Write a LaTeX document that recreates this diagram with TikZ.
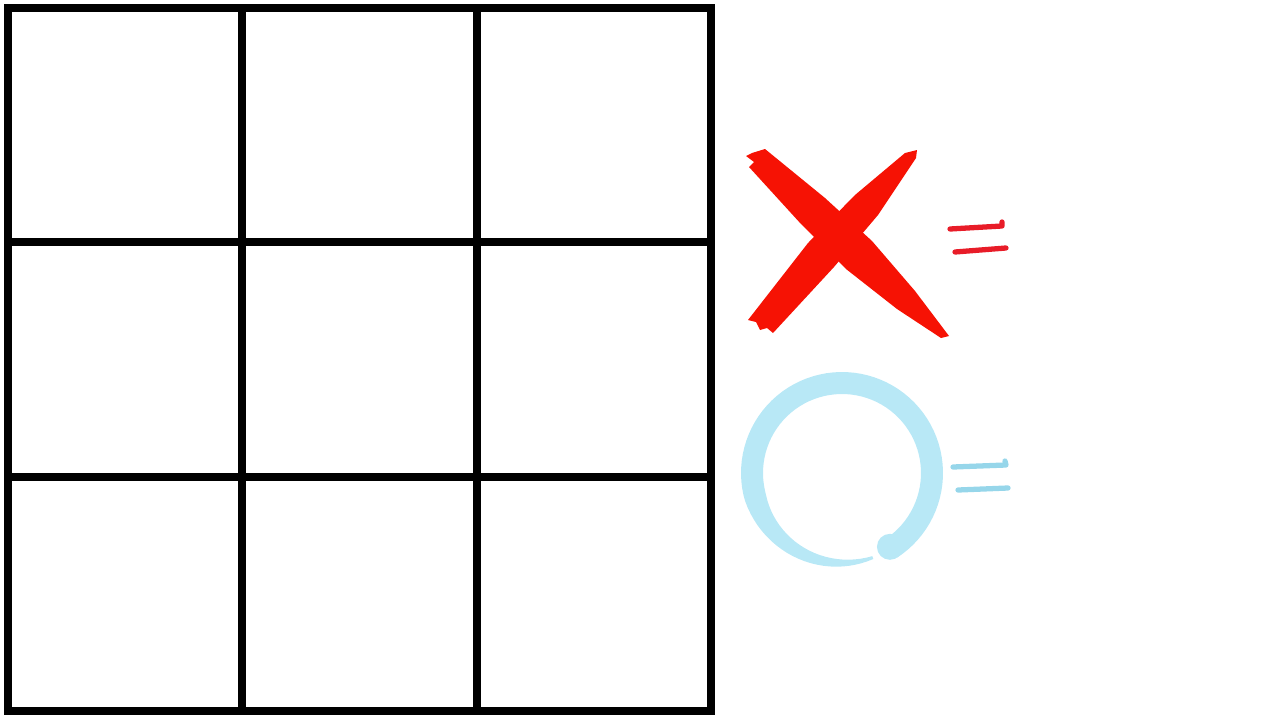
\documentclass[tikz,border=0pt]{standalone}
\usepackage{tikz}
\usetikzlibrary{positioning}
\usepackage{xcolor}
\definecolor{xred}{RGB}{246,18,4}
\definecolor{eqred}{RGB}{232,28,40}
\definecolor{oblue}{RGB}{184,232,246}
\definecolor{eqblue}{RGB}{150,214,234}

\begin{document}
\begin{tikzpicture}[x=0.02cm, y=-0.02cm,
  gridline/.style={line width=4.54pt, line cap=rect},
  eqline/.style={line width=3pt, line cap=round, line join=round},
  declare function={bw(\t)=3+19*min(1,max(0,(\t+290)/95));}]
  \useasboundingbox (0,0) rectangle (1280,720);
  % board
  \foreach \p in {8,242.3,476.7,711} {
    \draw[gridline] (\p,8) -- (\p,711);
    \draw[gridline] (8,\p) -- (711,\p);
  }
  % the X
  \fill[xred] (765,149) -- (825,198) -- (872,241) -- (915,291)
    -- (949,336) -- (941,338) -- (897,309) -- (846,269) -- (801,224) -- (749,167)
    -- (754,162) -- (746,156) -- (752,153) -- cycle;
  \fill[xred] (917,150) -- (916,158) -- (878,215) -- (834,267)
    -- (773,333) -- (767,328) -- (760,330) -- (756,322) -- (748,320) -- (808,243) -- (855,195)
    -- (905,153) -- cycle;
  \draw[eqred, eqline] (950,229) -- (1002,226) -- (1002,222);
  \draw[eqred, eqline] (955,252) -- (1006,248);
  % the O
  \coordinate (oc) at (842,473);
  \fill[oblue] plot[domain=-290:57, samples=90] ({842+(90+bw(\x)/2)*cos(\x)},{473+(90+bw(\x)/2)*sin(\x)})
    -- plot[domain=57:-290, samples=90] ({842+(90-bw(\x)/2)*cos(\x)},{473+(90-bw(\x)/2)*sin(\x)}) -- cycle;
  \fill[oblue] ([shift={(57:88)}]oc) circle (13);
  \draw[eqblue, eqline] (953,467) -- (1006,465) -- (1005,461);
  \draw[eqblue, eqline] (958,490) -- (1008,488);
\end{tikzpicture}
\end{document}
